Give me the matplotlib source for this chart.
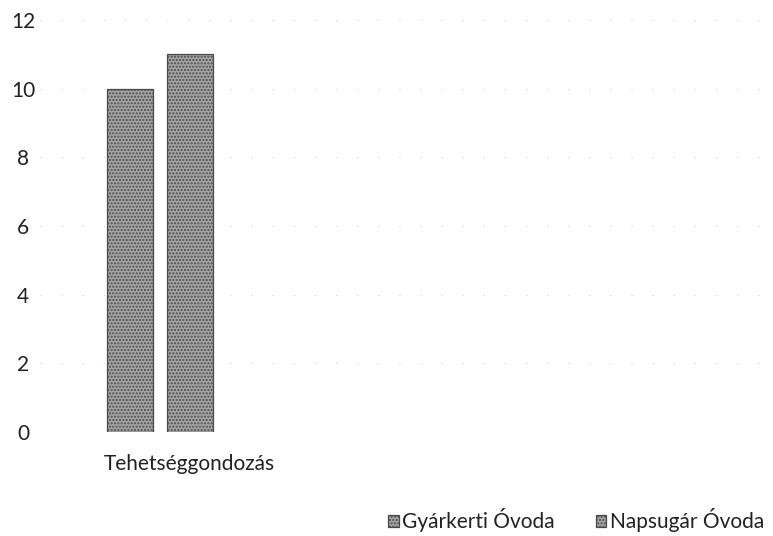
import numpy as np
import matplotlib
matplotlib.use("Agg")
import matplotlib.pyplot as plt
import matplotlib.transforms as mtransforms

plt.rcParams['font.family'] = ['Lato', 'DejaVu Sans']

categories = ['Tehetséggondozás', '', '']
series_names = ['Gyárkerti Óvoda', 'Napsugár Óvoda']
gyarkerti = [10, np.nan, np.nan]
napsugar = [11, np.nan, np.nan]
y_ticks = [0, 2, 4, 6, 8, 10, 12]

fs = 15
fig = plt.figure(figsize=(7.73, 5.36), dpi=100)
ax = fig.add_axes([40 / 773, 1 - 432 / 536, 720 / 773, 412 / 536])

x = np.arange(len(categories))
w = 0.19
off = 0.125
for vals, dx, name in [(gyarkerti, -off, series_names[0]), (napsugar, off, series_names[1])]:
    ax.bar(x + dx, vals, width=w, color='#a4a4a4', edgecolor='#4a4a4a',
           hatch='.....', linewidth=0.9, label=name)

ax.set_xlim(-0.5, 2.5)
ax.set_ylim(0, 12)
ax.set_yticks(y_ticks)
ax.set_xticks(x)
ax.set_xticklabels(categories)
for s in ax.spines.values():
    s.set_visible(False)
ax.tick_params(axis='y', length=0, pad=12, labelsize=fs, colors='#222222')
ax.tick_params(axis='x', length=0, pad=16, labelsize=fs, colors='#222222')
for lab in ax.get_yticklabels():
    lab.set_horizontalalignment('center')
# scanned label sits a bit right of the bar group
shift = mtransforms.ScaledTranslation(29 / 100, 0, fig.dpi_scale_trans)
for lab in ax.get_xticklabels():
    lab.set_transform(lab.get_transform() + shift)
ax.grid(axis='y', color='#d4d4d4', linestyle=(0, (1, 18)), linewidth=0.8)
ax.set_axisbelow(True)

fig.legend(loc='center', bbox_to_anchor=(576 / 773, 1 - 520 / 536), ncol=2,
           frameon=False, fontsize=fs, handlelength=0.5, handleheight=0.5,
           handletextpad=0.15, columnspacing=2.0, labelcolor='#222222')

fig.savefig('out.png', dpi=100)
